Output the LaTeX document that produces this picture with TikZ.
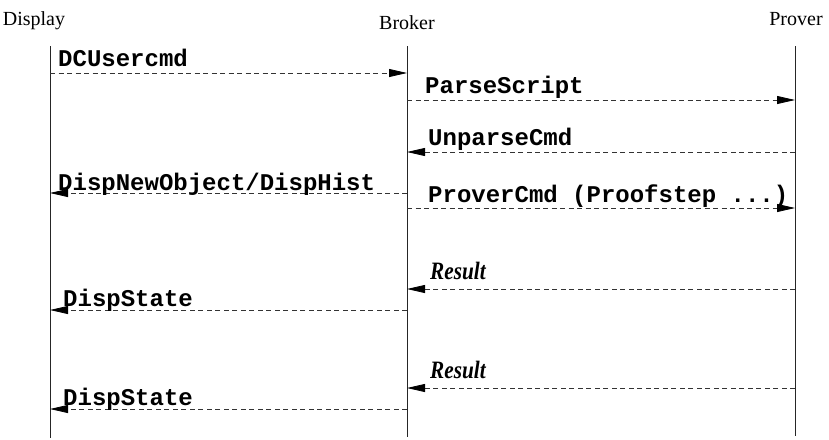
\documentclass[tikz,border=0pt]{standalone}
\usepackage{fontspec}
\setmainfont{Liberation Serif}
\newfontfamily\msgfont{Liberation Mono}
\newfontfamily\resfont[FakeStretch=0.85]{Liberation Serif}
\usetikzlibrary{arrows.meta}
\begin{document}
\begin{tikzpicture}[x=1pt,y=-1pt,
  lifeline/.style={line width=0.9pt,black!85},
  actor/.style={inner sep=0pt,font=\fontsize{20}{20}\selectfont,anchor=base},
  msg/.style={dash pattern=on 5pt off 3.5pt,line width=0.8pt,black!80,
    -{Triangle[length=18pt,width=8pt,color=black]}},
  msglabel/.style={inner sep=0pt,anchor=base west,
    font=\msgfont\bfseries\fontsize{24}{24}\selectfont},
  reslabel/.style={inner sep=0pt,anchor=base west,
    font=\resfont\bfseries\itshape\fontsize{25}{25}\selectfont}]
\useasboundingbox (0,0) rectangle (829,439);

% participants
\node[actor] (display) at (34,25) {Display};
\node[actor] (broker)  at (407,29) {Broker};
\node[actor] (prover)  at (796,25) {Prover};

% lifelines
\coordinate (dtop) at (50,46);  \coordinate (dbot) at (50,438);
\coordinate (btop) at (407,46); \coordinate (bbot) at (407,437);
\coordinate (ptop) at (795,46); \coordinate (pbot) at (795,436);
\draw[lifeline] (dtop) -- (dbot);
\draw[lifeline] (btop) -- (bbot);
\draw[lifeline] (ptop) -- (pbot);

% message end points on the lifelines
\foreach \y/\n in {73/1,193/4,310/7,409/9}{
  \coordinate (d\n) at (50,\y); \coordinate (b\n) at (407,\y);}
\foreach \y/\n in {100/2,152/3,208/5,289/6,388/8}{
  \coordinate (b\n) at (407,\y); \coordinate (p\n) at (795,\y);}

% messages
\draw[msg] (d1) -- (b1);
\node[msglabel] (m1) at (58,66) {DCUsercmd};
\draw[msg] (b2) -- (p2);
\node[msglabel] (m2) at (425,93) {ParseScript};
\draw[msg] (p3) -- (b3);
\node[msglabel] (m3) at (428,145) {UnparseCmd};
\draw[msg] (b4) -- (d4);
\node[msglabel] (m4) at (58,190) {DispNewObject/DispHist};
\draw[msg] (b5) -- (p5);
\node[msglabel] (m5) at (428,202) {ProverCmd (Proofstep ...)};
\draw[msg] (p6) -- (b6);
\node[reslabel] (m6) at (430,279) {Result};
\draw[msg] (b7) -- (d7);
\node[msglabel] (m7) at (63,306) {DispState};
\draw[msg] (p8) -- (b8);
\node[reslabel] (m8) at (430,378) {Result};
\draw[msg] (b9) -- (d9);
\node[msglabel] (m9) at (63,405) {DispState};
\end{tikzpicture}
\end{document}
